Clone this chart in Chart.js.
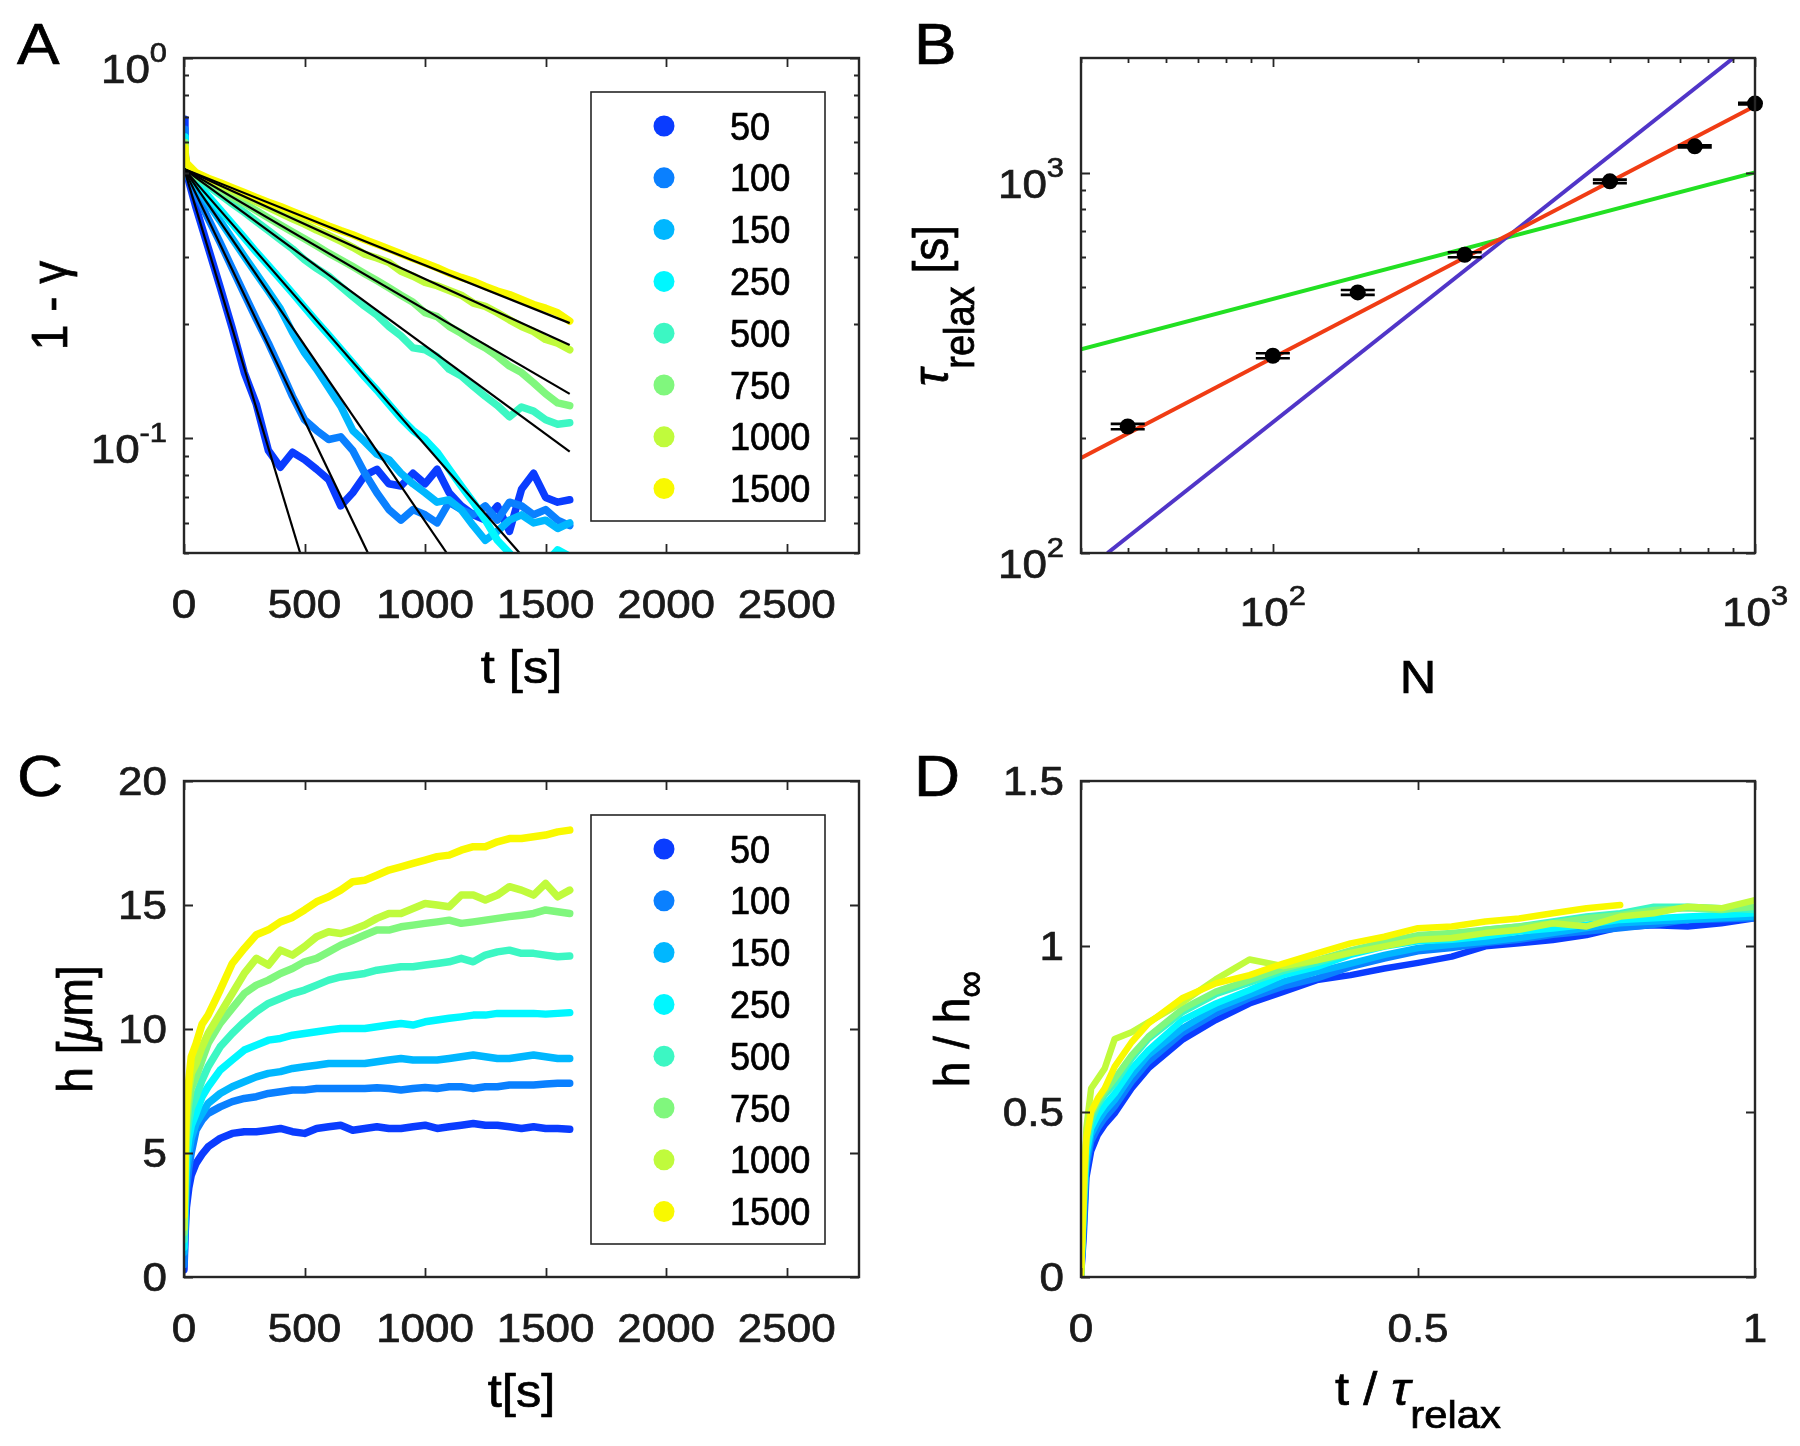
<!DOCTYPE html>
<html>
<head>
<meta charset="utf-8">
<script src="https://cdn.jsdelivr.net/npm/chart.js@4.4.0/dist/chart.umd.min.js"></script>
<style>
  html, body { margin: 0; padding: 0; background: #fff; }
  body { width: 1800px; height: 1446px; position: relative; overflow: hidden; }
  canvas { position: absolute; }
</style>
</head>
<body>
<canvas id="pA" width="900" height="723" style="left:0;top:0"></canvas>
<canvas id="pB" width="900" height="723" style="left:900px;top:0"></canvas>
<canvas id="pC" width="900" height="723" style="left:0;top:723px"></canvas>
<canvas id="pD" width="900" height="723" style="left:900px;top:723px"></canvas>
<script>
  // ---- data ----
  const sizes  = ['50', '100', '150', '250', '500', '750', '1000', '1500'];
  const colors = ['#0a3cff', '#0a80ff', '#00b7ff', '#00f7ff', '#3cf7c3', '#80f77d', '#c0fb3c', '#f9f900'];

  // panel A: 1 - gamma vs t
  const tA = [0, 4, 10, 50, 100, 150, 200, 250, 300, 350, 400, 450, 500, 550, 600, 650, 700, 750, 800,
              850, 900, 950, 1000, 1050, 1100, 1150, 1200, 1250, 1300, 1350, 1400, 1450, 1500, 1550, 1600];
  const g50   = [0.69, 0.58, 0.50, 0.404, 0.318, 0.250, 0.195, 0.149, 0.123, 0.093, 0.084, 0.092, 0.088, 0.083, 0.078, 0.0665, 0.072, 0.080, 0.083, 0.076, 0.075, 0.081, 0.076, 0.083, 0.072, 0.0665, 0.063, 0.061, 0.0665, 0.057, 0.0735, 0.081, 0.070, 0.068, 0.069];
  const g100  = [0.65, 0.56, 0.50, 0.441, 0.379, 0.327, 0.280, 0.240, 0.206, 0.178, 0.152, 0.129, 0.112, 0.105, 0.0994, 0.101, 0.093, 0.081, 0.072, 0.065, 0.061, 0.065, 0.063, 0.060, 0.068, 0.065, 0.063, 0.0665, 0.061, 0.068, 0.0665, 0.063, 0.065, 0.061, 0.059];
  const g150  = [0.62, 0.55, 0.51, 0.461, 0.415, 0.373, 0.335, 0.301, 0.271, 0.244, 0.219, 0.19, 0.168, 0.152, 0.136, 0.1216, 0.105, 0.098, 0.091, 0.088, 0.081, 0.076, 0.072, 0.068, 0.069, 0.065, 0.059, 0.054, 0.057, 0.061, 0.063, 0.060, 0.061, 0.058, 0.060];
  const g250  = [0.62, 0.55, 0.51, 0.47, 0.434, 0.399, 0.367, 0.337, 0.309, 0.285, 0.262, 0.241, 0.221, 0.203, 0.187, 0.172, 0.158, 0.145, 0.134, 0.123, 0.113, 0.105, 0.0994, 0.092, 0.083, 0.075, 0.068, 0.061, 0.054, 0.050, 0.045, 0.046, 0.047, 0.051, 0.049];
  const g500  = [0.60, 0.55, 0.52, 0.488, 0.461, 0.437, 0.414, 0.393, 0.372, 0.352, 0.333, 0.315, 0.295, 0.280, 0.267, 0.251, 0.236, 0.2225, 0.211, 0.197, 0.186, 0.173, 0.171, 0.164, 0.152, 0.146, 0.137, 0.129, 0.122, 0.114, 0.121, 0.118, 0.112, 0.109, 0.110];
  const g750  = [0.60, 0.56, 0.52, 0.49, 0.47, 0.452, 0.431, 0.415, 0.397, 0.380, 0.364, 0.349, 0.335, 0.321, 0.307, 0.295, 0.283, 0.271, 0.260, 0.249, 0.238, 0.228, 0.214, 0.209, 0.197, 0.189, 0.180, 0.173, 0.1645, 0.155, 0.149, 0.140, 0.131, 0.124, 0.122];
  const g1000 = [0.59, 0.56, 0.52, 0.495, 0.479, 0.464, 0.448, 0.433, 0.419, 0.405, 0.391, 0.378, 0.366, 0.353, 0.342, 0.330, 0.318, 0.305, 0.298, 0.290, 0.275, 0.267, 0.257, 0.252, 0.245, 0.238, 0.227, 0.2225, 0.214, 0.205, 0.197, 0.191, 0.182, 0.178, 0.171];
  const g1500 = [0.58, 0.56, 0.53, 0.50, 0.483, 0.470, 0.456, 0.443, 0.43, 0.418, 0.407, 0.395, 0.384, 0.373, 0.362, 0.352, 0.343, 0.333, 0.324, 0.315, 0.306, 0.297, 0.289, 0.281, 0.272, 0.265, 0.259, 0.251, 0.244, 0.239, 0.232, 0.225, 0.220, 0.214, 0.2035];
  // exponential fits (straight on log axis): common start, read end points
  const fitStartT = 0, fitStartY = 0.511;
  const fitEndT = [482, 763, 1090, 1392, 1600, 1600, 1600, 1600];
  const fitEndY = [0.05, 0.05, 0.05, 0.05, 0.0923, 0.131, 0.176, 0.201];

  // panel B: tau_relax vs N
  const nValues   = [50, 100, 150, 250, 500, 750, 1000];
  const tauValues = [215, 330, 484, 608, 948, 1172, 1518];
  const tauErr    = [3.5, 5, 7, 9, 10, 8, 8];
  const redFitN   = [40, 1000],  redFitTau   = [177.8, 1496];
  const greenFitN = [40, 1000],  greenFitTau = [343, 1000];
  const blueFitN  = [45.4, 902], blueFitTau  = [100, 2000];

  // panel C: h vs t
  const tC = [0, 5, 10, 20, 30, 50, 75, 100, 150, 200, 250, 300, 350, 400, 450, 500, 550, 600, 650, 700,
              750, 800, 850, 900, 950, 1000, 1050, 1100, 1150, 1200, 1250, 1300, 1350, 1400, 1450, 1500, 1550, 1600];
  const h50   = [0.3, 1.8, 2.8, 3.6, 4.1, 4.58, 4.95, 5.25, 5.59, 5.79, 5.86, 5.86, 5.92, 5.99, 5.86, 5.79, 5.99, 6.06, 6.12, 5.92, 5.99, 6.06, 5.99, 5.99, 6.06, 6.12, 5.99, 6.06, 6.12, 6.19, 6.12, 6.12, 6.06, 5.99, 6.06, 5.99, 5.99, 5.96];
  const h100  = [0.5, 2.5, 3.5, 4.4, 5.0, 5.92, 6.33, 6.6, 6.86, 7.07, 7.2, 7.27, 7.4, 7.47, 7.54, 7.54, 7.6, 7.6, 7.6, 7.6, 7.6, 7.63, 7.6, 7.54, 7.6, 7.64, 7.6, 7.67, 7.67, 7.6, 7.67, 7.67, 7.74, 7.74, 7.74, 7.78, 7.81, 7.81];
  const h150  = [1.0, 3.0, 4.2, 5.0, 5.6, 6.19, 6.6, 7.0, 7.4, 7.67, 7.87, 8.07, 8.21, 8.28, 8.41, 8.48, 8.54, 8.61, 8.61, 8.61, 8.61, 8.68, 8.75, 8.81, 8.75, 8.75, 8.75, 8.81, 8.88, 8.95, 8.88, 8.81, 8.81, 8.88, 8.95, 8.88, 8.81, 8.81];
  const h250  = [1.2, 3.5, 4.8, 5.6, 6.1, 6.6, 7.27, 7.67, 8.34, 8.75, 9.15, 9.35, 9.55, 9.62, 9.75, 9.82, 9.89, 9.96, 10.02, 10.02, 10.02, 10.09, 10.16, 10.22, 10.16, 10.29, 10.36, 10.43, 10.49, 10.56, 10.56, 10.63, 10.63, 10.63, 10.63, 10.6, 10.63, 10.66];
  const h500  = [1.5, 4.0, 5.5, 6.3, 6.8, 7.27, 7.94, 8.48, 9.28, 9.82, 10.29, 10.7, 11.03, 11.23, 11.43, 11.57, 11.77, 11.97, 12.1, 12.17, 12.24, 12.37, 12.44, 12.51, 12.51, 12.58, 12.64, 12.71, 12.85, 12.71, 12.98, 13.11, 13.18, 13.05, 13.05, 12.98, 12.91, 12.94];
  const h750  = [1.8, 4.5, 6.0, 7.0, 7.6, 8.07, 8.75, 9.42, 10.23, 10.83, 11.43, 11.77, 11.97, 12.24, 12.44, 12.71, 12.85, 13.11, 13.38, 13.58, 13.79, 13.99, 13.99, 14.12, 14.19, 14.26, 14.32, 14.39, 14.26, 14.32, 14.39, 14.46, 14.53, 14.59, 14.66, 14.8, 14.73, 14.66];
  const h1000 = [2.0, 5.0, 6.5, 7.6, 8.2, 8.6, 9.28, 9.82, 10.63, 11.43, 12.24, 12.85, 12.58, 13.18, 12.98, 13.32, 13.72, 13.92, 13.85, 14.0, 14.19, 14.46, 14.66, 14.66, 14.86, 15.06, 15.0, 14.93, 15.4, 15.4, 15.2, 15.4, 15.74, 15.6, 15.4, 15.87, 15.33, 15.6];
  const h1500 = [2.5, 5.5, 7.0, 7.94, 8.88, 9.4, 10.2, 10.56, 11.57, 12.64, 13.25, 13.8, 14.0, 14.32, 14.5, 14.8, 15.13, 15.33, 15.6, 15.94, 16.0, 16.2, 16.41, 16.54, 16.68, 16.81, 16.95, 17.01, 17.21, 17.35, 17.35, 17.55, 17.68, 17.68, 17.75, 17.82, 17.95, 18.02];

  // panel D: h / h_inf vs t / tau_relax
  const xD = [0, 0.004, 0.008, 0.015, 0.025, 0.035, 0.05, 0.075, 0.1, 0.15, 0.2, 0.25, 0.3, 0.35, 0.4,
              0.45, 0.5, 0.55, 0.6, 0.65, 0.7, 0.75, 0.8, 0.85, 0.9, 0.95, 1.0];
  const d50   = [0, 0.12, 0.3, 0.38, 0.43, 0.46, 0.495, 0.57, 0.631, 0.717, 0.777, 0.827, 0.862, 0.898, 0.913, 0.933, 0.95, 0.969, 1.0, 1.009, 1.019, 1.034, 1.058, 1.064, 1.06, 1.07, 1.085];
  const d100  = [0, 0.15, 0.33, 0.41, 0.45, 0.48, 0.515, 0.59, 0.651, 0.737, 0.797, 0.843, 0.878, 0.903, 0.938, 0.963, 0.985, 0.995, 1.01, 1.02, 1.035, 1.045, 1.055, 1.065, 1.08, 1.082, 1.085];
  const d150  = [0, 0.2, 0.35, 0.43, 0.47, 0.5, 0.535, 0.61, 0.671, 0.752, 0.812, 0.853, 0.893, 0.923, 0.948, 0.974, 0.995, 1.005, 1.014, 1.025, 1.04, 1.055, 1.07, 1.075, 1.08, 1.085, 1.09];
  const d250  = [0, 0.22, 0.37, 0.45, 0.49, 0.52, 0.555, 0.63, 0.686, 0.777, 0.827, 0.868, 0.913, 0.938, 0.974, 0.999, 1.015, 1.02, 1.03, 1.045, 1.054, 1.065, 1.08, 1.085, 1.09, 1.095, 1.1];
  const d500  = [0, 0.25, 0.4, 0.47, 0.52, 0.55, 0.585, 0.66, 0.72, 0.80, 0.855, 0.89, 0.925, 0.95, 0.98, 1.005, 1.025, 1.035, 1.05, 1.06, 1.075, 1.09, 1.1, 1.12, 1.12, 1.115, 1.11];
  const d750  = [0, 0.28, 0.42, 0.49, 0.53, 0.56, 0.6, 0.67, 0.727, 0.81, 0.863, 0.898, 0.933, 0.958, 0.988, 1.013, 1.034, 1.04, 1.05, 1.06, 1.07, 1.085, 1.095, 1.11, 1.115, 1.11, 1.12];
  const d1000 = [0, 0.22, 0.45, 0.57, 0.6, 0.63, 0.72, 0.74, 0.77, 0.83, 0.9, 0.96, 0.94, 0.958, 0.98, 1.0, 1.02, 1.025, 1.04, 1.05, 1.07, 1.06, 1.09, 1.10, 1.12, 1.115, 1.14];
  const d1500 = [0, 0.3, 0.42, 0.5, 0.54, 0.57, 0.636, 0.71, 0.767, 0.843, 0.888, 0.913, 0.948, 0.979, 1.009, 1.029, 1.055, 1.06, 1.075, 1.084, 1.10, 1.115, 1.125, null, null, null, null];

  // ticks
  const tTicks = [0, 500, 1000, 1500, 2000, 2500];
  const gammaMajor = [0.1, 1], gammaExp = ['-1', '0'];
  const gammaMinor = [0.05, 0.06, 0.07, 0.08, 0.09, 0.2, 0.3, 0.4, 0.5, 0.6, 0.7, 0.8, 0.9];
  const nMajor = [100, 1000], nExp = ['2', '3'];
  const nMinor = [40, 50, 60, 70, 80, 90, 200, 300, 400, 500, 600, 700, 800, 900];
  const tauMajor = [100, 1000], tauExp = ['2', '3'];
  const tauMinor = [200, 300, 400, 500, 600, 700, 800, 900];
  const hTicks = [0, 5, 10, 15, 20];
  const dxTicks = [0, 0.5, 1], dxLabels = ['0', '0.5', '1'];
  const dyTicks = [0, 0.5, 1, 1.5], dyLabels = ['0', '0.5', '1', '1.5'];

  // ---- drawing helpers ----
  const FONT = '"Liberation Sans", Arial, Helvetica, sans-serif';
  const INK = '#1a1a1a', BOX = '#262626', SX = 1.1, HEAVY = 0.7;

  function drawText(ctx, s, x, y, size, align, sx, style) {
    ctx.font = (style ? style + ' ' : '') + size + 'px ' + FONT;
    const w = ctx.measureText(s).width * sx;
    const x0 = align === 'center' ? x - w / 2 : align === 'right' ? x - w : x;
    ctx.save();
    ctx.translate(x0, y);
    ctx.scale(sx, 1);
    ctx.textAlign = 'left';
    ctx.textBaseline = 'alphabetic';
    ctx.fillText(s, 0, 0);
    ctx.strokeStyle = ctx.fillStyle;
    ctx.lineWidth = HEAVY;
    ctx.strokeText(s, 0, 0);
    ctx.restore();
    return w;
  }

  function powLabel(ctx, exp, x, y, align) {
    ctx.font = '40px ' + FONT;
    const wb = ctx.measureText('10').width * SX;
    ctx.font = '28px ' + FONT;
    const we = ctx.measureText(exp).width * SX;
    const tot = wb + we;
    const x0 = align === 'center' ? x - tot / 2 : align === 'right' ? x - tot : x;
    drawText(ctx, '10', x0, y, 40, 'left', SX);
    drawText(ctx, exp, x0 + wb, y - 21, 28, 'left', SX);
  }

  function drawRuns(ctx, runs, px, py, rotated) {
    ctx.save();
    ctx.translate(px, py);
    ctx.scale(SX, 1);
    if (rotated) ctx.rotate(-Math.PI / 2);
    ctx.textAlign = 'left';
    ctx.textBaseline = 'alphabetic';
    ctx.strokeStyle = ctx.fillStyle;
    ctx.lineWidth = HEAVY;
    const fnt = r => (r.italic ? 'italic ' : '') + (r.size || 46) + 'px ' + FONT;
    let total = 0;
    runs.forEach(r => { ctx.font = fnt(r); r.w = ctx.measureText(r.s).width; total += r.w; });
    let x = -total / 2;
    runs.forEach(r => {
      ctx.font = fnt(r);
      ctx.fillText(r.s, x, r.dy || 0);
      ctx.strokeText(r.s, x, r.dy || 0);
      x += r.w;
    });
    ctx.restore();
  }

  function frame(cfg) {
    return {
      id: 'frame' + cfg.letter,
      afterDatasetsDraw(chart) {
        if (!cfg.errors) return;
        const ctx = chart.ctx, a = chart.chartArea, xs = chart.scales.x, ys = chart.scales.y;
        ctx.save();
        ctx.beginPath();
        ctx.rect(a.left, a.top, a.right - a.left, a.bottom - a.top);
        ctx.clip();
        ctx.strokeStyle = '#000';
        ctx.lineWidth = 2.6;
        ctx.beginPath();
        cfg.errors.x.forEach((n, i) => {
          const px = xs.getPixelForValue(n);
          const lo = ys.getPixelForValue(cfg.errors.y[i] - cfg.errors.e[i]);
          const hi = ys.getPixelForValue(cfg.errors.y[i] + cfg.errors.e[i]);
          ctx.moveTo(px, lo); ctx.lineTo(px, hi);
          ctx.moveTo(px - 17, lo); ctx.lineTo(px + 17, lo);
          ctx.moveTo(px - 17, hi); ctx.lineTo(px + 17, hi);
        });
        ctx.stroke();
        ctx.restore();
      },
      afterDraw(chart) {
        const ctx = chart.ctx, a = chart.chartArea, xs = chart.scales.x, ys = chart.scales.y;
        ctx.save();
        ctx.strokeStyle = BOX;
        ctx.lineWidth = 1.8;
        ctx.beginPath();
        const tick = (vals, len, isX) => vals.forEach(v => {
          if (isX) {
            const p = Math.round(xs.getPixelForValue(v)) + 0.5;
            ctx.moveTo(p, a.bottom); ctx.lineTo(p, a.bottom - len);
            ctx.moveTo(p, a.top); ctx.lineTo(p, a.top + len);
          } else {
            const p = Math.round(ys.getPixelForValue(v)) + 0.5;
            ctx.moveTo(a.left, p); ctx.lineTo(a.left + len, p);
            ctx.moveTo(a.right, p); ctx.lineTo(a.right - len, p);
          }
        });
        tick(cfg.xMajor, 9, true);
        tick(cfg.xMinor || [], 5, true);
        tick(cfg.yMajor, 9, false);
        tick(cfg.yMinor || [], 5, false);
        ctx.stroke();
        ctx.lineWidth = 2.4;
        ctx.strokeRect(a.left, a.top, a.right - a.left, a.bottom - a.top);

        // tick labels
        ctx.fillStyle = INK;
        cfg.xMajor.forEach((v, i) => {
          const p = xs.getPixelForValue(v);
          if (cfg.xPow) powLabel(ctx, cfg.xPow[i], p, a.bottom + 73, 'center');
          else drawText(ctx, cfg.xLabels[i], p, a.bottom + 65, 40, 'center', SX);
        });
        cfg.yMajor.forEach((v, i) => {
          const p = ys.getPixelForValue(v);
          if (cfg.yPow) powLabel(ctx, cfg.yPow[i], a.left - 17, p + 25, 'right');
          else drawText(ctx, cfg.yLabels[i], a.left - 17, p + 14, 40, 'right', SX);
        });

        // axis titles
        ctx.fillStyle = '#000';
        drawRuns(ctx, cfg.xTitle, (a.left + a.right) / 2, cfg.xTitleY, false);
        drawRuns(ctx, cfg.yTitle, cfg.yTitleX, (a.top + a.bottom) / 2, true);

        // panel letter
        drawText(ctx, cfg.letter, cfg.letterX, cfg.letterY, 58, 'left', SX);

        // legend
        if (cfg.legend) {
          const L = cfg.legend;
          ctx.fillStyle = '#fff';
          ctx.fillRect(L.left, L.top, L.right - L.left, L.bottom - L.top);
          ctx.lineWidth = 1.6;
          ctx.strokeStyle = BOX;
          ctx.strokeRect(L.left, L.top, L.right - L.left, L.bottom - L.top);
          sizes.forEach((lab, i) => {
            const y = L.y0 + i * L.dy;
            ctx.fillStyle = colors[i];
            ctx.beginPath();
            ctx.arc(L.mx, y, 10.5, 0, 2 * Math.PI);
            ctx.fill();
            ctx.fillStyle = '#000';
            drawText(ctx, lab, L.tx, y + 13.6, 38, 'left', 0.95);
          });
        }
        ctx.restore();
      }
    };
  }

  function baseOptions(pad, xScale, yScale) {
    return {
      responsive: false,
      animation: false,
      devicePixelRatio: 1,
      events: [],
      layout: { padding: pad },
      plugins: { legend: { display: false }, tooltip: { enabled: false } },
      elements: { point: { radius: 0 }, line: { tension: 0 } },
      scales: {
        x: Object.assign({ display: false }, xScale),
        y: Object.assign({ display: false }, yScale)
      }
    };
  }

  const legendBox = { left: 591, right: 825, top: 92, bottom: 521, mx: 664, tx: 730, y0: 126, dy: 51.8 };
  const curve = (xs, ys, i, width) => ({
    data: xs.map((x, j) => ({ x: x, y: ys[j] })).filter(p => p.y !== null),
    showLine: true,
    borderColor: colors[i],
    borderWidth: width,
    borderCapStyle: 'round',
    borderJoinStyle: 'round',
    pointRadius: 0,
    order: 20 - i
  });

  // ---- panel A ----
  const gSeries = [g50, g100, g150, g250, g500, g750, g1000, g1500];
  const dsA = gSeries.map((v, i) => curve(tA, v, i, 7.5));
  fitEndT.forEach((t, i) => dsA.push({
    data: [{ x: fitStartT, y: fitStartY }, { x: t, y: fitEndY[i] }],
    showLine: true, borderColor: '#000', borderWidth: 2.2, pointRadius: 0, order: 0
  }));
  new Chart(document.getElementById('pA'), {
    type: 'scatter',
    data: { datasets: dsA },
    options: baseOptions({ left: 184, top: 58, right: 41, bottom: 170 },
      { type: 'linear', min: 0, max: 2800 },
      { type: 'logarithmic', min: 0.05, max: 1 }),
    plugins: [frame({
      letter: 'A', letterX: 17, letterY: 64,
      xMajor: tTicks, xLabels: tTicks.map(String),
      yMajor: gammaMajor, yPow: gammaExp, yMinor: gammaMinor,
      xTitle: [{ s: 't [s]' }], xTitleY: 683,
      yTitle: [{ s: '1 - γ' }], yTitleX: 67,
      legend: legendBox
    })]
  });

  // ---- panel B ----
  const pair = (xs, ys) => xs.map((x, j) => ({ x: x, y: ys[j] }));
  new Chart(document.getElementById('pB'), {
    type: 'scatter',
    data: {
      datasets: [
        { data: pair(nValues, tauValues), pointRadius: 8, pointBackgroundColor: '#000',
          pointBorderWidth: 0, order: 0, clip: false },
        { data: pair(redFitN, redFitTau), showLine: true, borderColor: '#f03c14', borderWidth: 4, order: 1 },
        { data: pair(greenFitN, greenFitTau), showLine: true, borderColor: '#22e022', borderWidth: 4, order: 3 },
        { data: pair(blueFitN, blueFitTau), showLine: true, borderColor: '#5035c8', borderWidth: 4, order: 2 }
      ]
    },
    options: baseOptions({ left: 181, top: 58, right: 45, bottom: 170 },
      { type: 'logarithmic', min: 40, max: 1000 },
      { type: 'logarithmic', min: 100, max: 2000 }),
    plugins: [frame({
      letter: 'B', letterX: 14, letterY: 64,
      xMajor: nMajor, xPow: nExp, xMinor: nMinor,
      yMajor: tauMajor, yPow: tauExp, yMinor: tauMinor,
      xTitle: [{ s: 'N' }], xTitleY: 693,
      yTitle: [{ s: 'τ', italic: true }, { s: 'relax', size: 38, dy: 24 }, { s: ' [s]' }], yTitleX: 48,
      errors: { x: nValues, y: tauValues, e: tauErr }
    })]
  });

  // ---- panel C ----
  const hSeries = [h50, h100, h150, h250, h500, h750, h1000, h1500];
  new Chart(document.getElementById('pC'), {
    type: 'scatter',
    data: { datasets: hSeries.map((v, i) => curve(tC, v, i, 7.5)) },
    options: baseOptions({ left: 184, top: 58, right: 41, bottom: 169 },
      { type: 'linear', min: 0, max: 2800 },
      { type: 'linear', min: 0, max: 20 }),
    plugins: [frame({
      letter: 'C', letterX: 17, letterY: 73,
      xMajor: tTicks, xLabels: tTicks.map(String),
      yMajor: hTicks, yLabels: hTicks.map(String),
      xTitle: [{ s: 't[s]' }], xTitleY: 684,
      yTitle: [{ s: 'h [' }, { s: 'μ', italic: true }, { s: 'm]' }], yTitleX: 92,
      legend: legendBox
    })]
  });

  // ---- panel D ----
  const dSeries = [d50, d100, d150, d250, d500, d750, d1000, d1500];
  new Chart(document.getElementById('pD'), {
    type: 'scatter',
    data: { datasets: dSeries.map((v, i) => curve(xD, v, i, 6.5)) },
    options: baseOptions({ left: 181, top: 58, right: 45, bottom: 169 },
      { type: 'linear', min: 0, max: 1 },
      { type: 'linear', min: 0, max: 1.5 }),
    plugins: [frame({
      letter: 'D', letterX: 14, letterY: 73,
      xMajor: dxTicks, xLabels: dxLabels,
      yMajor: dyTicks, yLabels: dyLabels,
      xTitle: [{ s: 't / ' }, { s: 'τ', italic: true }, { s: 'relax', size: 38, dy: 23 }], xTitleY: 682,
      yTitle: [{ s: 'h / h' }, { s: '∞', size: 38, dy: 14 }], yTitleX: 69
    })]
  });
</script>
</body>
</html>
